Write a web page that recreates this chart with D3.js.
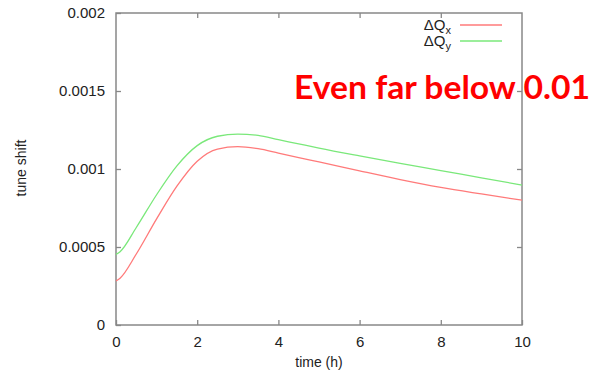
<!DOCTYPE html>
<html>
<head>
<meta charset="utf-8">
<style>
  body { margin: 0; background: #fff; }
  svg { display: block; }
  .tick text { font-family: "Liberation Sans", Arial, sans-serif; font-size: 15px; fill: #222; }
  .domain { stroke: none; }
  .tick line { stroke: #888; stroke-width: 1.3; }
</style>
</head>
<body>
<script src="https://d3js.org/d3.v7.min.js"></script>
<svg id="chart" width="595" height="375"></svg>
<script>
// values (tune shift, hours)
var time = [0, 0.1, 0.5, 1, 1.5, 2, 2.5, 3, 3.5, 4, 4.5, 5, 6, 7, 8, 9, 10];
var dQx = [0.000282, 0.000300, 0.000455, 0.000680, 0.000890, 0.001050, 0.001128, 0.001143, 0.001130, 0.001102, 0.001073, 0.001045, 0.000988, 0.000932, 0.000882, 0.000840, 0.000800];
var dQy = [0.000453, 0.000470, 0.000625, 0.000835, 0.001020, 0.001150, 0.001210, 0.001224, 0.001215, 0.001188, 0.001161, 0.001134, 0.001084, 0.001036, 0.000990, 0.000943, 0.000897];
var xTicks = [0, 2, 4, 6, 8, 10];
var yTicks = [0, 0.0005, 0.001, 0.0015, 0.002];
var yTickLabels = ["0", "0.0005", "0.001", "0.0015", "0.002"];

var svg = d3.select("#chart");
var pLeft = 116, pRight = 522, pTop = 13, pBottom = 325;

var x = d3.scaleLinear().domain([0, 10]).range([pLeft, pRight]);
var y = d3.scaleLinear().domain([0, 0.002]).range([pBottom, pTop]);

// frame
svg.append("rect")
    .attr("x", pLeft).attr("y", pTop)
    .attr("width", pRight - pLeft).attr("height", pBottom - pTop)
    .attr("fill", "none").attr("stroke", "#888").attr("stroke-width", 1.5);

// axes with inward ticks (gnuplot style, mirrored)
svg.append("g").attr("transform", "translate(0," + pBottom + ")")
    .call(d3.axisBottom(x).tickValues(xTicks).tickSizeInner(-5).tickSizeOuter(0).tickPadding(11).tickFormat(d3.format("d")));
svg.append("g").attr("transform", "translate(0," + pTop + ")")
    .call(d3.axisTop(x).tickValues(xTicks.slice(1, -1)).tickSizeInner(-5).tickSizeOuter(0).tickFormat(""));
svg.append("g").attr("transform", "translate(" + pLeft + ",0)")
    .call(d3.axisLeft(y).tickValues(yTicks).tickSizeInner(-5).tickSizeOuter(0).tickPadding(11)
        .tickFormat(function(d, i) { return yTickLabels[i]; }));
svg.append("g").attr("transform", "translate(" + pRight + ",0)")
    .call(d3.axisRight(y).tickValues(yTicks.slice(1, -1)).tickSizeInner(-5).tickSizeOuter(0).tickFormat(""));

// axis titles
svg.append("text")
    .attr("x", (pLeft + pRight) / 2).attr("y", 367)
    .attr("text-anchor", "middle")
    .style("font-family", "Liberation Sans, Arial, sans-serif").style("font-size", "14px").style("fill", "#222")
    .text("time (h)");
svg.append("text")
    .attr("transform", "translate(26,168) rotate(-90)")
    .attr("text-anchor", "middle")
    .style("font-family", "Liberation Sans, Arial, sans-serif").style("font-size", "14px").style("fill", "#222")
    .text("tune shift");

// curves
var series = [
    { name: "x", values: dQx, color: "#ff7a7a" },
    { name: "y", values: dQy, color: "#7ae87a" }
];
var line = d3.line()
    .x(function(d, i) { return x(time[i]); })
    .y(function(d) { return y(d); })
    .curve(d3.curveMonotoneX);

svg.selectAll("path.curve")
    .data(series)
    .enter().append("path")
    .attr("class", "curve")
    .attr("fill", "none")
    .attr("stroke", function(d) { return d.color; })
    .attr("stroke-width", 1.3)
    .attr("d", function(d) { return line(d.values); });

// legend
var legend = svg.selectAll("g.legend")
    .data(series)
    .enter().append("g")
    .attr("class", "legend")
    .attr("transform", function(d, i) { return "translate(0," + (i * 16) + ")"; });
legend.append("line")
    .attr("x1", 460).attr("x2", 502).attr("y1", 25).attr("y2", 25)
    .attr("stroke", function(d) { return d.color; }).attr("stroke-width", 1.3);
var lt = legend.append("text")
    .attr("x", 451).attr("y", 29.5)
    .attr("text-anchor", "end")
    .style("font-family", "Liberation Sans, Arial, sans-serif").style("font-size", "15px").style("fill", "#222");
lt.append("tspan").text("\u0394Q");
lt.append("tspan").attr("dy", 4).style("font-size", "11px").text(function(d) { return d.name; });

// annotation
svg.append("text")
    .attr("x", 294).attr("y", 99)
    .attr("textLength", 296).attr("lengthAdjust", "spacingAndGlyphs")
    .style("font-family", "Lato, 'Open Sans', sans-serif").style("font-weight", "bold")
    .style("font-size", "33px").style("fill", "#ff0000")
    .text("Even far below 0.01");
</script>
</body>
</html>
